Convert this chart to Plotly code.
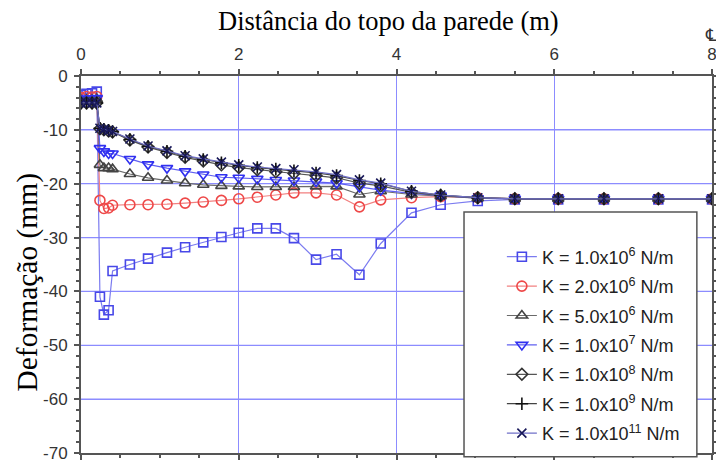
import plotly.graph_objects as go

# Distance from top of wall (m)
x_dist = [0, 0.07, 0.14, 0.20, 0.24, 0.29, 0.35, 0.40, 0.62, 0.85, 1.09, 1.32, 1.55, 1.78,
          2.00, 2.235, 2.47, 2.70, 2.98, 3.24, 3.53, 3.80, 4.19, 4.56, 5.03, 5.50, 6.05,
          6.63, 7.32, 8.00]

k_1e6 = [-3.5, -3.3, -3.2, -2.9, -41.0, -44.3, -43.5, -36.2, -35.0, -33.9, -32.8, -31.8,
         -30.9, -29.9, -29.1, -28.3, -28.3, -30.1, -34.1, -33.1, -36.9, -31.1, -25.4,
         -23.9, -23.2, -22.9, -22.9, -22.9, -22.9, -22.9]
k_2e6 = [-4.0, -3.8, -3.9, -3.8, -23.1, -24.6, -24.5, -24.0, -23.9, -23.9, -23.8, -23.6,
         -23.4, -23.1, -22.8, -22.5, -22.1, -21.7, -21.7, -22.1, -24.3, -23.0, -22.6,
         -22.4, -22.6, -22.8, -22.8, -22.8, -22.8, -22.8]
k_5e6 = [-4.5, -4.4, -4.4, -4.3, -16.5, -17.1, -17.1, -17.3, -18.2, -18.9, -19.4, -19.9,
         -20.2, -20.4, -20.5, -20.6, -20.6, -20.6, -20.5, -20.5, -22.0, -21.4, -22.0,
         -22.3, -22.7, -22.8, -22.8, -22.8, -22.8, -22.8]
k_1e7 = [-4.3, -4.2, -4.2, -4.1, -13.4, -14.0, -14.4, -14.4, -15.4, -16.4, -17.1, -17.7,
         -18.3, -18.8, -18.9, -19.1, -19.3, -19.4, -19.6, -19.9, -20.6, -21.2, -21.8,
         -22.2, -22.7, -22.8, -22.8, -22.8, -22.8, -22.8]
k_1e8 = [-5.0, -5.0, -5.0, -5.0, -9.8, -10.0, -10.2, -10.4, -11.9, -13.2, -14.2, -15.1,
         -15.8, -16.5, -17.0, -17.4, -17.8, -18.1, -18.5, -18.9, -19.9, -20.4, -21.6,
         -22.2, -22.6, -22.8, -22.8, -22.8, -22.8, -22.8]
k_1e9 = [-5.0, -5.0, -5.0, -5.0, -9.7, -9.9, -10.1, -10.3, -11.8, -13.1, -14.0, -14.9,
         -15.5, -16.1, -16.6, -17.0, -17.3, -17.6, -18.0, -18.5, -19.4, -20.0, -21.4,
         -22.1, -22.6, -22.8, -22.8, -22.8, -22.8, -22.8]
k_1e11 = [-5.0, -5.0, -5.0, -5.0, -9.7, -9.9, -10.1, -10.3, -11.7, -13.0, -13.9, -14.8,
          -15.4, -16.0, -16.5, -16.9, -17.2, -17.4, -17.8, -18.3, -19.3, -19.9, -21.4,
          -22.1, -22.6, -22.8, -22.8, -22.8, -22.8, -22.8]

series_names = ["K = 1.0x10<sup>6</sup> N/m", "K = 2.0x10<sup>6</sup> N/m",
                "K = 5.0x10<sup>6</sup> N/m", "K = 1.0x10<sup>7</sup> N/m",
                "K = 1.0x10<sup>8</sup> N/m", "K = 1.0x10<sup>9</sup> N/m",
                "K = 1.0x10<sup>11</sup> N/m"]
series_values = [k_1e6, k_2e6, k_5e6, k_1e7, k_1e8, k_1e9, k_1e11]

x_tickvals = [0, 2, 4, 6, 8]
x_ticktext = ["0", "2", "4", "6", "8"]
y_tickvals = [-70, -60, -50, -40, -30, -20, -10, 0]
y_ticktext = ["-70", "-60", "-50", "-40", "-30", "-20", "-10", "0"]

x_minor = [i * 0.5 for i in range(17)]
y_minor = [-70 + 2 * i for i in range(36)]

styles = [
    dict(line="#7b7bf0", marker="#4848e8", symbol="square-open", size=9),
    dict(line="#f28080", marker="#ee4848", symbol="circle-open", size=10),
    dict(line="#6a6a6a", marker="#444444", symbol="triangle-up-open", size=10),
    dict(line="#6060f0", marker="#3030f0", symbol="triangle-down-open", size=10),
    dict(line="#555555", marker="#333333", symbol="diamond-open", size=9),
    dict(line="#444444", marker="#111111", symbol="cross-thin-open", size=9),
    dict(line="#7070c8", marker="#18185a", symbol="x-thin-open", size=9),
]

fig = go.Figure()
for i, (name, vals, st) in enumerate(zip(series_names, series_values, styles)):
    fig.add_trace(go.Scatter(
        x=x_dist, y=vals, name=name, mode="lines+markers",
        legendgroup="g%d" % i,
        line=dict(color=st["line"], width=1.2),
        marker=dict(symbol=st["symbol"], size=st["size"], color=st["marker"],
                    line=dict(color=st["marker"], width=1.6)),
    ))

tick_font = dict(family="Liberation Sans, Arial", size=17, color="#333333")
grid_color = "#8c8cff"
axis_color = "#555555"

# horizontal grid lines at the interior major y ticks (drawn as shapes in data coords)
grid_shapes = [dict(type="line", xref="paper", yref="y", x0=0, x1=1, y0=v, y1=v,
                    line=dict(color=grid_color, width=1.2), layer="below")
               for v in y_tickvals[1:-1]]
legend_box = dict(type="rect", xref="paper", yref="paper", x0=0.607, x1=0.976,
                  y0=-0.01, y1=0.639, line=dict(color="#555555", width=1.5),
                  fillcolor="white", layer="above")

fig.update_layout(
    template="none",
    width=716, height=467,
    margin=dict(l=81, r=4, t=76, b=14),
    paper_bgcolor="white", plot_bgcolor="white",
    xaxis=dict(
        side="top", range=[0, 8], tickmode="array", tickvals=x_tickvals, ticktext=x_ticktext,
        showline=True, linecolor=axis_color, linewidth=2, mirror="ticks",
        ticks="outside", ticklen=5, tickwidth=1.5, tickcolor=axis_color,
        showgrid=True, gridcolor=grid_color, gridwidth=1.2, zeroline=False,
        tickfont=tick_font, ticklabeloverflow="allow", ticklabelstandoff=2,
        minor=dict(tickmode="array", tickvals=x_minor, ticks="outside", ticklen=3,
                   tickcolor=axis_color),
    ),
    yaxis=dict(
        range=[-70, 0], tickmode="array", tickvals=y_tickvals, ticktext=y_ticktext,
        showline=True, linecolor=axis_color, linewidth=2, mirror="ticks",
        ticks="outside", ticklen=5, tickwidth=1.5, tickcolor=axis_color,
        showgrid=True, gridcolor=grid_color, gridwidth=1.2, zeroline=False,
        tickfont=tick_font, ticklabeloverflow="allow", ticklabelstandoff=3,
        minor=dict(tickmode="array", tickvals=y_minor, ticks="outside", ticklen=3,
                   tickcolor=axis_color),
    ),
    showlegend=True,
    legend=dict(
        x=0.667, y=0.569, xanchor="left", yanchor="top",
        bgcolor="rgba(0,0,0,0)", borderwidth=0,
        font=dict(family="Liberation Sans, Arial", size=18, color="#222222"),
        tracegroupgap=3, traceorder="grouped",
    ),
    shapes=grid_shapes + [legend_box],
    annotations=[
        dict(text="Distância do topo da parede (m)", xref="paper", yref="paper",
             x=0.487, y=1.0, yshift=55, xanchor="center", yanchor="middle", showarrow=False,
             font=dict(family="Liberation Serif, Times New Roman", size=26.5, color="black")),
        dict(text="Deformação (mm)", xref="paper", yref="paper", textangle=-90,
             x=0, xshift=-53, y=0.452, xanchor="center", yanchor="middle", showarrow=False,
             font=dict(family="Liberation Serif, Times New Roman", size=29.5, color="black")),
        dict(text="℄", xref="paper", yref="paper", x=1.0, y=1.0, xshift=-1, yshift=41,
             xanchor="center", yanchor="middle", showarrow=False,
             font=dict(family="DejaVu Sans", size=17, color="#333333")),
    ],
)

fig.write_html("out.html")
